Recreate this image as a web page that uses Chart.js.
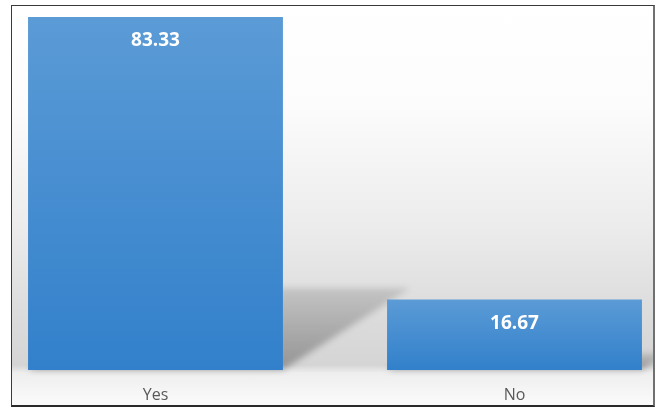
<!DOCTYPE html>
<html>
<head>
<meta charset="utf-8">
<script src="https://cdn.jsdelivr.net/npm/chart.js@4.4.1/dist/chart.umd.min.js"></script>
<style>
  html, body { margin: 0; padding: 0; background: #fff; }
  #frame {
    position: absolute; left: 11px; top: 5px;
    width: 641px; height: 399px;
    overflow: hidden;
    border: 1px solid #3a3a3a;
    border-right: 2px solid #707070;
    border-bottom: 2px solid #2a2a2a;
    background: linear-gradient(to bottom, #ffffff 0%, #fcfcfc 25%, #ececec 55%, #dddddd 75%, #d5d5d5 90%, #eeeeee 92%, #fbfbfb 100%);
  }
  #chart { display: block; }
</style>
</head>
<body>
<div id="frame"><canvas id="chart" width="641" height="399"></canvas></div>
<script>
// Chart data
const categories = ['Yes', 'No'];
const values = [83.33, 16.67];

// Blue gradient for each bar, from its top to the baseline
function barGradient(context) {
  const chart = context.chart;
  const area = chart.chartArea;
  if (!area) return '#4a8fd3';
  const yScale = chart.scales.y;
  const top = yScale.getPixelForValue(values[context.dataIndex]);
  const base = yScale.getPixelForValue(0);
  const g = chart.ctx.createLinearGradient(0, top, 0, base);
  g.addColorStop(0, '#5b9bd6');
  g.addColorStop(1, '#3280cb');
  return g;
}

// Perspective shadow cast behind each bar
const barShadow = {
  id: 'barShadow',
  beforeDatasetsDraw(chart) {
    const ctx = chart.ctx;
    const meta = chart.getDatasetMeta(0);
    ctx.save();
    ctx.filter = 'blur(3px)';
    meta.data.forEach(bar => {
      const left = bar.x - bar.width / 2;
      const right = bar.x + bar.width / 2;
      const h = bar.base - bar.y;
      const dy = h * 0.232;
      const dx = h * 0.36;
      const g = ctx.createLinearGradient(0, bar.base, 0, bar.base - dy);
      g.addColorStop(0, 'rgba(0,0,0,0.30)');
      g.addColorStop(1, 'rgba(0,0,0,0.12)');
      ctx.fillStyle = g;
      ctx.beginPath();
      ctx.moveTo(left, bar.base);
      ctx.lineTo(right, bar.base);
      ctx.lineTo(right + dx, bar.base - dy);
      ctx.lineTo(left + dx, bar.base - dy);
      ctx.closePath();
      ctx.fill();
    });
    ctx.restore();
  }
};

// Value labels inside the top of each bar
const valueLabels = {
  id: 'valueLabels',
  afterDatasetsDraw(chart) {
    const ctx = chart.ctx;
    const meta = chart.getDatasetMeta(0);
    ctx.save();
    ctx.font = 'bold 19px "Open Sans", sans-serif';
    ctx.fillStyle = '#ffffff';
    ctx.textAlign = 'center';
    ctx.textBaseline = 'middle';
    meta.data.forEach((bar, i) => {
      ctx.fillText(values[i].toFixed(2), bar.x, bar.y + 24);
    });
    ctx.restore();
  }
};

new Chart(document.getElementById('chart'), {
  type: 'bar',
  data: {
    datasets: [{
      data: values.map((v, i) => ({ x: i, y: v })),
      backgroundColor: barGradient,
      borderWidth: 0,
      barPercentage: 0.71,
      categoryPercentage: 1
    }]
  },
  options: {
    responsive: false,
    animation: false,
    layout: { padding: { top: 11, bottom: 1, left: 0, right: 0 } },
    plugins: {
      legend: { display: false },
      tooltip: { enabled: false }
    },
    scales: {
      x: {
        type: 'linear',
        offset: false,
        min: -0.3997,
        max: 1.3858,
        afterBuildTicks(scale) {
          scale.ticks = categories.map((c, i) => ({ value: i }));
        },
        afterFit(scale) {
          scale.height = 34;
        },
        ticks: {
          padding: 16,
          color: '#595959',
          font: { family: 'Open Sans', size: 16 },
          callback: v => categories[v]
        },
        grid: { display: false, drawTicks: false },
        border: { display: false }
      },
      y: {
        display: false,
        min: 0,
        max: 83.33
      }
    }
  },
  plugins: [barShadow, valueLabels]
});
</script>
</body>
</html>
